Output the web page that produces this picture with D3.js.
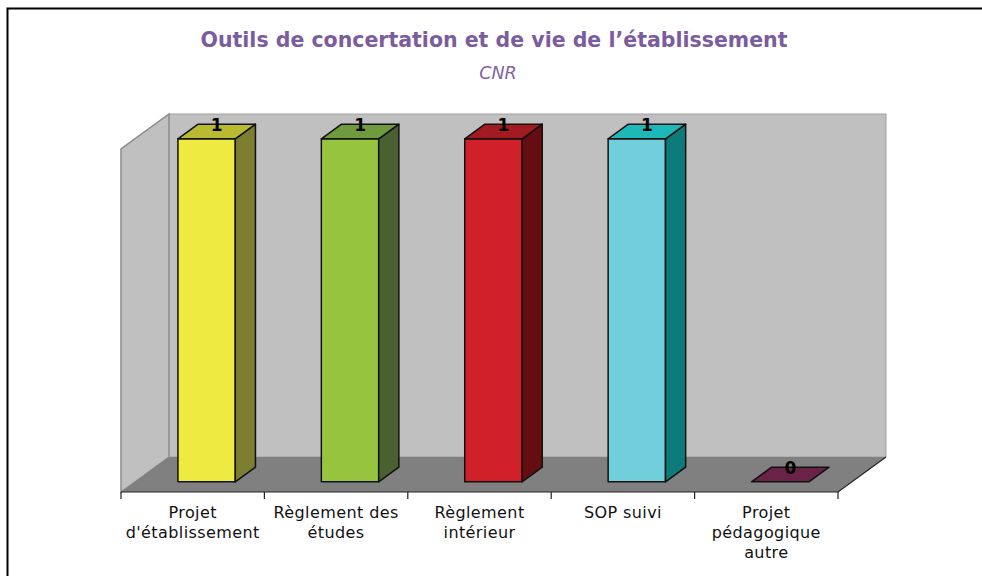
<!DOCTYPE html>
<html>
<head>
<meta charset="utf-8">
<script src="https://cdn.jsdelivr.net/npm/d3@7"></script>
<style>
  body { margin: 0; background: #fff; }
  svg { display: block; }
</style>
</head>
<body>
<div id="chart"></div>
<script>
const categories = [
  ['Projet', "d'établissement"],
  ['Règlement des', 'études'],
  ['Règlement', 'intérieur'],
  ['SOP suivi'],
  ['Projet', 'pédagogique', 'autre']
];
const values = [1, 1, 1, 1, 0];
const frontColors = ['#efea42', '#96c43f', '#d2202a', '#71cfdc', '#8a2f60'];
const topColors = ['#b9b932', '#6f9a3e', '#a11b20', '#1eb8b8', '#6b2247'];
const sideColors = ['#7e7e32', '#4a6030', '#650d10', '#0c7b7a', '#4a1732'];

const width = 982, height = 576;
const svg = d3.select('#chart').append('svg')
  .attr('width', width)
  .attr('height', height);

// outer frame
svg.append('rect')
  .attr('x', 7.5).attr('y', 8.5)
  .attr('width', 990).attr('height', 600)
  .attr('fill', 'none').attr('stroke', '#000').attr('stroke-width', 2);

// title
svg.append('text')
  .attr('x', 494).attr('y', 47)
  .attr('text-anchor', 'middle')
  .style('font-family', 'DejaVu Sans, Verdana, sans-serif')
  .style('font-weight', 'bold')
  .style('font-size', '20.5px')
  .attr('fill', '#7b5c9e')
  .text('Outils de concertation et de vie de l’établissement');

svg.append('text')
  .attr('x', 498).attr('y', 79)
  .attr('text-anchor', 'middle')
  .style('font-family', 'DejaVu Sans, Verdana, sans-serif')
  .style('font-style', 'italic')
  .style('font-size', '17.5px')
  .attr('fill', '#8064a2')
  .text('CNR');

// 3d projection
const left = 121, right = 838, floorY = 492;
const depthX = 48, depthY = 35;
const keys = d3.range(categories.length);

const xCat = d3.scaleBand().domain(keys).range([left, right]).padding(0);
const xBar = d3.scaleBand().domain(keys).range([left, right])
  .paddingInner(0.6).paddingOuter(0.3);
const y = d3.scaleLinear().domain([0, 1]).range([floorY, 149]);
const dpx = d3.scaleLinear().domain([0, 1]).range([0, depthX]);
const dpy = d3.scaleLinear().domain([0, 1]).range([0, -depthY]);

function pt(x, v, d) {
  return [x + dpx(d), y(v) + dpy(d)];
}
function poly(points) {
  return 'M' + points.map(p => p.join(',')).join('L') + 'Z';
}

const walls = svg.append('g');
// back wall
walls.append('path')
  .attr('d', poly([pt(left, 0, 1), pt(left, 1, 1), pt(right, 1, 1), pt(right, 0, 1)]))
  .attr('fill', '#c0c0c0').attr('stroke', '#a0a0a0').attr('stroke-width', 1);
// side wall
walls.append('path')
  .attr('d', poly([pt(left, 0, 0), pt(left, 1, 0), pt(left, 1, 1), pt(left, 0, 1)]))
  .attr('fill', '#c0c0c0').attr('stroke', '#8c8c8c').attr('stroke-width', 1.5);
// floor
walls.append('path')
  .attr('d', poly([pt(left, 0, 0), pt(right, 0, 0), pt(right, 0, 1), pt(left, 0, 1)]))
  .attr('fill', '#808080').attr('stroke', 'none');
// floor front edges
walls.append('path')
  .attr('d', 'M' + pt(left, 0, 0).join(',') + 'L' + pt(right, 0, 0).join(',') + 'L' + pt(right, 0, 1).join(','))
  .attr('fill', 'none').attr('stroke', '#222').attr('stroke-width', 1.2);

// ticks
svg.append('g').selectAll('line')
  .data(keys.concat([keys.length]))
  .join('line')
  .attr('x1', d => d < keys.length ? xCat(d) : right)
  .attr('x2', d => d < keys.length ? xCat(d) : right)
  .attr('y1', floorY).attr('y2', floorY + 7)
  .attr('stroke', '#222').attr('stroke-width', 1.2);

// bars
const d0 = 0.29, d1 = 0.71;
const bars = svg.append('g').selectAll('g')
  .data(values)
  .join('g');

bars.each(function(v, i) {
  const g = d3.select(this);
  const x0 = xBar(i), x1 = xBar(i) + xBar.bandwidth();
  if (v > 0) {
    g.append('path')
      .attr('d', poly([pt(x0, 0, d0), pt(x0, v, d0), pt(x1, v, d0), pt(x1, 0, d0)]))
      .attr('fill', frontColors[i]);
    g.append('path')
      .attr('d', poly([pt(x1, 0, d0), pt(x1, v, d0), pt(x1, v, d1), pt(x1, 0, d1)]))
      .attr('fill', sideColors[i]);
  }
  g.append('path')
    .attr('d', poly([pt(x0, v, d0), pt(x0, v, d1), pt(x1, v, d1), pt(x1, v, d0)]))
    .attr('fill', topColors[i]);
  g.selectAll('path')
    .attr('stroke', '#111').attr('stroke-width', 1.5).attr('stroke-linejoin', 'round');

  const c = pt((x0 + x1) / 2, v, (d0 + d1) / 2);
  g.append('text')
    .attr('x', c[0])
    .attr('y', c[1] - 7)
    .attr('dy', '0.36em')
    .attr('text-anchor', 'middle')
    .style('font-family', 'DejaVu Sans, Verdana, sans-serif')
    .style('font-weight', 'bold')
    .style('font-size', '17px')
    .attr('fill', '#000')
    .text(v);
});

// category labels
const labels = svg.append('g').selectAll('text')
  .data(categories)
  .join('text')
  .attr('x', (d, i) => xCat(i) + xCat.bandwidth() / 2)
  .attr('y', 518)
  .attr('text-anchor', 'middle')
  .style('font-family', 'DejaVu Sans, Verdana, sans-serif')
  .style('font-size', '16px')
  .style('letter-spacing', '0.4px')
  .attr('fill', '#111');

labels.selectAll('tspan')
  .data(d => d)
  .join('tspan')
  .attr('x', function() { return d3.select(this.parentNode).attr('x'); })
  .attr('dy', (d, j) => j === 0 ? 0 : 20)
  .text(d => d);
</script>
</body>
</html>
